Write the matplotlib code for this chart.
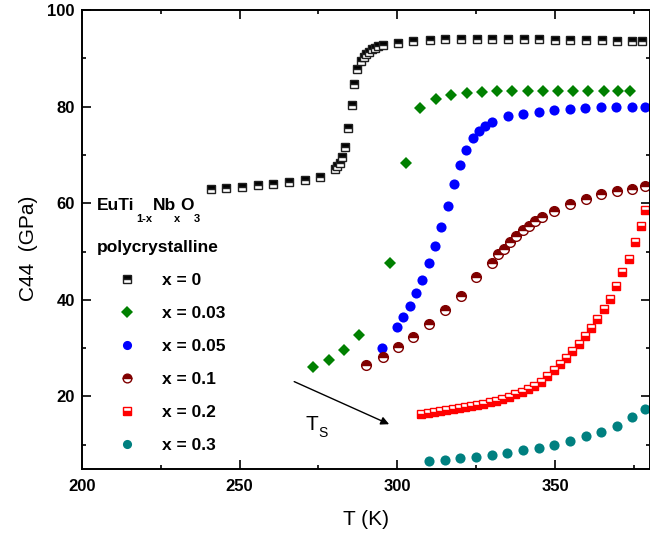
## C44 elastic constant vs temperature for EuTi(1-x)Nb(x)O3 ceramics
import numpy as np
import matplotlib
matplotlib.use("Agg")
import matplotlib.pyplot as plt
from matplotlib.ticker import MultipleLocator

plt.rcParams["font.family"] = ["Liberation Sans", "DejaVu Sans"]

### Data: temperature (K) and C44 (GPa) for each Nb content

## x = 0
t_x0 = [240.8, 245.6, 250.6, 255.7, 260.6, 265.6, 270.6, 275.5, 280.2, 281.0, 281.8,
        282.6, 283.4, 284.5, 285.5, 286.2, 287.2, 288.4, 289.4, 290.2, 291.0, 291.9,
        292.9, 294.0, 295.5, 300.2, 305.0, 310.3, 315.2, 320.1, 325.2, 330.0, 335.1,
        340.0, 345.0, 349.9, 354.7, 359.8, 364.8, 369.6, 374.4, 377.5]
c_x0 = [62.9, 63.2, 63.4, 63.7, 64.1, 64.4, 64.8, 65.5, 67.2, 67.7, 68.4,
        69.6, 71.7, 75.5, 80.3, 84.8, 87.9, 89.4, 90.3, 91.0, 91.4, 91.9,
        92.2, 92.5, 92.7, 93.2, 93.6, 93.8, 94.0, 94.1, 94.1, 94.1, 94.0,
        94.0, 94.0, 93.9, 93.9, 93.8, 93.8, 93.7, 93.6, 93.6]

## x = 0.03
t_x003 = [273.3, 278.2, 283.1, 288.0, 297.6, 302.6, 307.1, 312.2, 317.1, 322.0, 326.8,
          331.7, 336.5, 341.3, 346.2, 351.0, 355.8, 360.6, 365.4, 370.1, 373.9]
c_x003 = [26.1, 27.5, 29.7, 32.8, 47.6, 68.4, 79.8, 81.7, 82.5, 82.8, 83.1,
          83.2, 83.3, 83.3, 83.3, 83.3, 83.3, 83.3, 83.3, 83.3, 83.3]

## x = 0.05
t_x005 = [295.2, 299.9, 301.9, 304.0, 305.9, 307.8, 310.0, 312.0, 313.9, 316.0, 318.0,
          319.8, 321.9, 323.9, 325.8, 327.8, 330.0, 335.0, 339.8, 344.8, 349.7, 354.6,
          359.6, 364.5, 369.4, 374.4, 378.4]
c_x005 = [30.1, 34.4, 36.4, 38.8, 41.4, 44.2, 47.6, 51.1, 55.1, 59.4, 63.9,
          67.9, 71.1, 73.5, 75.0, 76.0, 76.8, 78.0, 78.5, 79.0, 79.3, 79.6,
          79.8, 79.9, 80.0, 80.0, 80.0]

## x = 0.1
t_x01 = [290.2, 295.3, 300.1, 305.1, 310.0, 315.1, 320.1, 324.9, 329.9, 331.8, 333.8,
         335.8, 337.7, 339.7, 341.7, 343.8, 345.8, 349.8, 354.7, 359.7, 364.7, 369.6,
         374.5, 378.5]
c_x01 = [26.5, 28.1, 30.2, 32.4, 34.9, 37.8, 40.8, 44.7, 47.7, 49.4, 50.6,
         52.0, 53.2, 54.4, 55.4, 56.3, 57.2, 58.5, 59.9, 60.9, 61.9, 62.6,
         63.0, 63.5]

## x = 0.2
t_x02 = [307.6, 309.6, 311.6, 313.5, 315.5, 317.5, 319.4, 321.4, 323.4, 325.3, 327.3,
         329.3, 331.2, 333.2, 335.4, 337.4, 339.4, 341.4, 343.4, 345.4, 347.5, 349.6,
         351.5, 353.6, 355.5, 357.6, 359.5, 361.5, 363.4, 365.4, 367.3, 369.4, 371.3,
         373.4, 375.2, 377.2, 378.6]
c_x02 = [16.4, 16.6, 16.8, 17.0, 17.2, 17.4, 17.6, 17.8, 18.0, 18.3, 18.5,
         18.8, 19.1, 19.4, 19.9, 20.4, 21.0, 21.5, 22.2, 23.0, 24.2, 25.4,
         26.7, 27.9, 29.4, 30.9, 32.5, 34.2, 36.0, 38.0, 40.2, 42.8, 45.8,
         48.5, 51.9, 55.3, 58.7]

## x = 0.3
t_x03 = [310.1, 315.1, 320.0, 324.9, 330.0, 334.9, 339.8, 344.8, 349.7, 354.7, 359.7,
         364.5, 369.6, 374.5, 378.4]
c_x03 = [6.7, 6.9, 7.2, 7.4, 7.8, 8.3, 8.8, 9.4, 10.0, 10.8, 11.7,
         12.7, 13.8, 15.7, 17.3]

labels = ["x = 0", "x = 0.03", "x = 0.05", "x = 0.1", "x = 0.2", "x = 0.3"]

### Figure
fig = plt.figure(figsize=(6.5, 5.37), dpi=100)
ax = fig.add_axes([0.126, 0.127, 0.8735, 0.854])

h0, = ax.plot(t_x0, c_x0, ls="none", marker="s", ms=6.3, mew=1.0, fillstyle="top",
              mfc="black", mfcalt="white", mec="#202020")
h1, = ax.plot(t_x003, c_x003, ls="none", marker="D", ms=6.3, mew=0,
              color="#008000")
h2, = ax.plot(t_x005, c_x005, ls="none", marker="o", ms=7.3, mew=0,
              color="#0000ff")
h3, = ax.plot(t_x01, c_x01, ls="none", marker="o", ms=7.0, mew=1.0, fillstyle="top",
              mfc="#800000", mfcalt="white", mec="#800000")
h4, = ax.plot(t_x02, c_x02, ls="none", marker="s", ms=6.0, mew=1.0, fillstyle="bottom",
              mfc="#ff0000", mfcalt="white", mec="#ff0000")
h5, = ax.plot(t_x03, c_x03, ls="none", marker="o", ms=7.3, mew=0,
              color="#008080")

## Axes limits and ticks
ax.set_xlim(200, 380)
ax.set_ylim(5, 100)
ax.xaxis.set_major_locator(MultipleLocator(50))
ax.xaxis.set_minor_locator(MultipleLocator(25))
ax.yaxis.set_major_locator(MultipleLocator(20))
ax.yaxis.set_minor_locator(MultipleLocator(10))
ax.tick_params(which="both", direction="in", top=True, right=True, width=1.2)
ax.tick_params(which="major", length=6.5)
ax.tick_params(which="minor", length=3)
ax.tick_params(axis="x", pad=7)
ax.tick_params(axis="y", pad=5)
for lab in ax.get_xticklabels() + ax.get_yticklabels():
    lab.set_fontsize(12)
    lab.set_fontweight("bold")
for sp in ax.spines.values():
    sp.set_linewidth(1.4)

ax.set_xlabel("T (K)", fontsize=15)
ax.set_ylabel("C44  (GPa)", fontsize=15)
ax.xaxis.set_label_coords(0.5, -0.09)
ax.yaxis.set_label_coords(-0.078, 0.48)

## Legend (no frame)
ax.legend([h0, h1, h2, h3, h4, h5], labels, loc="upper left",
          bbox_to_anchor=(0.067, 0.4266), frameon=False, numpoints=1,
          prop={"size": 12.5, "weight": "bold"}, handlelength=0.8,
          handletextpad=1.65, labelspacing=1.02, borderpad=0, borderaxespad=0,
          markerscale=0.9)

## Sample label with subscripts, placed in pixel positions
W, H = 650.0, 537.0
def ptext(x, y, s, size, weight="bold"):
    fig.text(x / W, 1 - y / H, s, fontsize=size, fontweight=weight,
             ha="left", va="baseline")

ptext(97, 210, "EuTi", 12.5)
ptext(136, 222, "1-x", 8)
ptext(153, 210, "Nb", 12.5)
ptext(174, 222, "x", 8)
ptext(180, 210, "O", 12.5)
ptext(194, 222, "3", 8)
ptext(97, 252, "polycrystalline", 12.5)

## Structural transition arrow
ax.annotate("", xy=(298.2, 14.0), xytext=(266.5, 23.3),
            arrowprops=dict(arrowstyle="-|>", color="black", lw=1.0,
                            mutation_scale=12))
ptext(305, 430, "T", 15, weight="normal")
ptext(318.5, 437, "S", 10, weight="normal")

fig.savefig("out.png", dpi=100)
